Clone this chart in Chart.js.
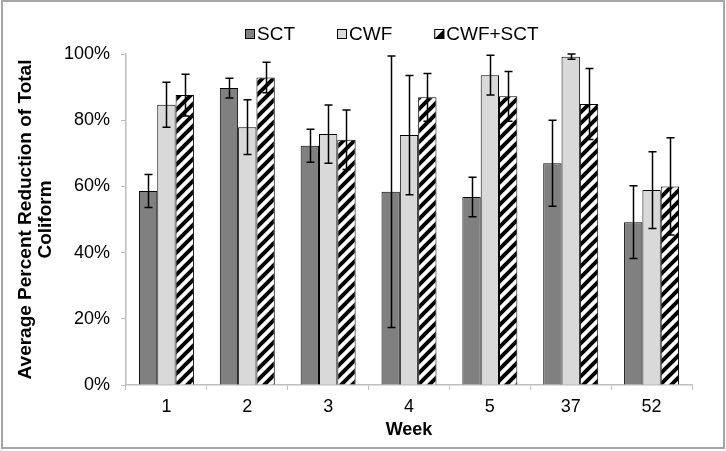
<!DOCTYPE html>
<html>
<head>
<meta charset="utf-8">
<script src="https://cdn.jsdelivr.net/npm/chart.js@4"></script>
<style>
  body { margin: 0; background: #fff; }
  #wrap { width: 726px; height: 451px; }
</style>
</head>
<body>
<div id="wrap"><canvas id="coliformChart" width="726" height="451"></canvas></div>
<script>
    // weeks on the x axis
    var weeks = ['1', '2', '3', '4', '5', '37', '52'];
    // average percent reduction
    var sct = [58.6, 89.7, 72.3, 58.4, 56.8, 67.0, 49.2];
    var sctErr = [5.0, 3.0, 5.0, 41.0, 6.0, 13.0, 11.0];
    var cwf = [84.7, 77.9, 75.8, 75.5, 93.6, 99.2, 58.9];
    var cwfErr = [6.8, 8.3, 8.8, 18.0, 6.0, 0.8, 11.6];
    var cwfSct = [87.6, 92.9, 74.1, 86.9, 87.2, 84.9, 60.0];
    var cwfSctErr = [6.3, 4.6, 9.0, 7.2, 7.5, 10.7, 14.7];
    var yTicks = [0, 20, 40, 60, 80, 100];

    var FONT = "'Liberation Sans', Arial, Helvetica, sans-serif";

    // diagonal hatch for the CWF+SCT bars
    function makeHatch() {
        var p = 11;
        var c = document.createElement('canvas');
        c.width = p; c.height = p;
        var g = c.getContext('2d');
        g.fillStyle = '#fff';
        g.fillRect(0, 0, p, p);
        g.strokeStyle = '#000';
        g.lineWidth = 4;
        g.beginPath();
        g.moveTo(-2, p + 2); g.lineTo(p + 2, -2);
        g.moveTo(-2, 2); g.lineTo(2, -2);
        g.moveTo(p - 2, p + 2); g.lineTo(p + 2, p - 2);
        g.stroke();
        return g.createPattern(c, 'repeat');
    }

    var ctx = document.getElementById('coliformChart').getContext('2d');
    var hatch = makeHatch();

    // grey frame round the whole picture
    var framePlugin = {
        id: 'frame',
        beforeDraw: function (chart) {
            var c = chart.ctx;
            c.save();
            c.fillStyle = '#fff';
            c.fillRect(0, 0, chart.width, chart.height);
            c.strokeStyle = '#a6a6a6';
            c.lineWidth = 2;
            c.strokeRect(2, 1, chart.width - 4, chart.height - 4);
            c.restore();
        }
    };

    // error bars drawn through the y scale
    var errorBars = {
        id: 'errorBars',
        afterDatasetsDraw: function (chart) {
            var c = chart.ctx;
            var y = chart.scales.y;
            c.save();
            c.strokeStyle = '#000';
            c.lineWidth = 1.5;
            chart.data.datasets.forEach(function (ds, i) {
                var meta = chart.getDatasetMeta(i);
                meta.data.forEach(function (bar, j) {
                    var v = ds.data[j], e = ds.errors[j];
                    var top = y.getPixelForValue(v + e);
                    var bot = y.getPixelForValue(v - e);
                    var x = Math.round(bar.x) + 0.5;
                    c.beginPath();
                    c.moveTo(x, top); c.lineTo(x, bot);
                    c.moveTo(x - 4, top); c.lineTo(x + 4, top);
                    c.moveTo(x - 4, bot); c.lineTo(x + 4, bot);
                    c.stroke();
                });
            });
            c.restore();
        }
    };

    // legend like the original: small boxes, text close by
    var legendPlugin = {
        id: 'boxLegend',
        afterDraw: function (chart) {
            var c = chart.ctx;
            c.save();
            c.font = '19px ' + FONT;
            c.textBaseline = 'middle';
            var x = chart.chartArea.left + 119;
            var yc = 34;
            chart.data.datasets.forEach(function (ds, i) {
                var bx = x, by = yc - 5;
                if (i === 2) {
                    c.fillStyle = '#000';
                    c.fillRect(bx, by, 10, 10);
                    c.fillStyle = '#fff';
                    c.beginPath();
                    c.moveTo(bx, by); c.lineTo(bx + 10, by); c.lineTo(bx, by + 10);
                    c.closePath();
                    c.fill();
                } else {
                    c.fillStyle = ds.backgroundColor;
                    c.fillRect(bx, by, 10, 10);
                }
                c.strokeStyle = '#000';
                c.lineWidth = 1;
                c.strokeRect(bx + 0.5, by + 0.5, 9, 9);
                c.fillStyle = '#000';
                c.fillText(ds.label, x + 12, yc + 1);
                x += 12 + c.measureText(ds.label).width + 42;
            });
            c.restore();
        }
    };

    var chart = new Chart(ctx, {
        type: 'bar',
        data: {
            labels: weeks,
            datasets: [{
                label: 'SCT',
                backgroundColor: '#808080',
                borderColor: '#000',
                borderWidth: 1,
                data: sct,
                errors: sctErr
            }, {
                label: 'CWF',
                backgroundColor: '#d9d9d9',
                borderColor: '#000',
                borderWidth: 1,
                data: cwf,
                errors: cwfErr
            }, {
                label: 'CWF+SCT',
                backgroundColor: hatch,
                borderColor: '#000',
                borderWidth: 1,
                data: cwfSct,
                errors: cwfSctErr
            }]
        },
        options: {
            responsive: false,
            animation: false,
            devicePixelRatio: 1,
            categoryPercentage: 0.68,
            barPercentage: 1.0,
            layout: { padding: { top: 54, right: 34, bottom: 10, left: 0 } },
            plugins: {
                legend: { display: false },
                tooltip: { enabled: false }
            },
            scales: {
                x: {
                    grid: { drawOnChartArea: false, color: '#bfbfbf', tickLength: 5, offset: true },
                    border: { color: '#bfbfbf', width: 1.5 },
                    ticks: { color: '#000', font: { family: FONT, size: 18 }, padding: 6 },
                    title: {
                        display: true, text: 'Week', color: '#000',
                        font: { family: FONT, size: 18, weight: 'bold' },
                        padding: { top: 0, bottom: 0 }
                    },
                    afterFit: function (s) { s.height = 56; }
                },
                y: {
                    min: 0, max: 100,
                    afterBuildTicks: function (s) {
                        s.ticks = yTicks.map(function (v) { return { value: v }; });
                    },
                    grid: { drawOnChartArea: false, color: '#bfbfbf', tickLength: 5 },
                    border: { color: '#bfbfbf', width: 1.5 },
                    ticks: {
                        color: '#000', font: { family: FONT, size: 18 }, padding: 11,
                        callback: function (v) { return v + '%'; }
                    },
                    title: {
                        display: true,
                        text: ['Average Percent Reduction of Total', 'Coliform'],
                        color: '#000',
                        font: { family: FONT, size: 19, weight: 'bold', lineHeight: 1.05 },
                        padding: { top: 16, bottom: 0 }
                    },
                    afterFit: function (s) { s.width = 126; }
                }
            }
        },
        plugins: [framePlugin, errorBars, legendPlugin]
    });
</script>
</body>
</html>
